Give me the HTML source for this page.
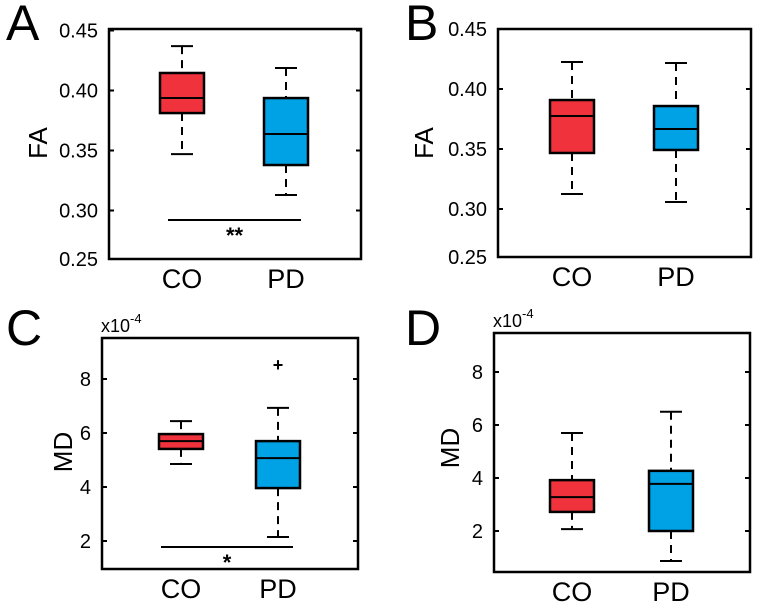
<!DOCTYPE html>
<html><head><meta charset="utf-8"><style>
body{margin:0;background:#fff}
svg{display:block;font-family:"Liberation Sans",Arial,sans-serif}
</style></head><body>
<svg id="s" width="761" height="609" viewBox="0 0 761 609"></svg>
<script>
const groups=["CO","PD"];
const colors=["#f0323c","#00a2e6"];
// FA panels: [whiskerTop,q3,median,q1,whiskerBottom]
const panelA_CO=[0.437,0.4146,0.3937,0.3812,0.347];
const panelA_PD=[0.4187,0.3937,0.3637,0.3379,0.3129];
const panelB_CO=[0.4225,0.3908,0.3775,0.3467,0.3125];
const panelB_PD=[0.4217,0.3858,0.3667,0.3492,0.3058];
// MD panels (x1e-4)
const panelC_CO=[6.44,5.96,5.70,5.41,4.85];
const panelC_PD=[6.93,5.70,5.07,3.96,2.15];
const panelC_outliers=[8.52];
const panelD_CO=[5.7,3.92,3.28,2.72,2.07];
const panelD_PD=[6.5,4.27,3.78,2.0,0.87];
const faTicks=[0.45,0.40,0.35,0.30,0.25];
const faTickLabels=["0.45","0.40","0.35","0.30","0.25"];
const mdTicks=[8,6,4,2];
const mdTickLabels=["8","6","4","2"];

const NS="http://www.w3.org/2000/svg";
const svg=document.getElementById('s');
function mk(tag,attrs,parent,text){const e=document.createElementNS(NS,tag);for(const k in attrs)e.setAttribute(k,attrs[k]);if(text!==undefined)e.textContent=text;(parent||svg).appendChild(e);return e;}

function panel(cfg){
  const g=mk('g',{});
  
  
  const y=v=>cfg.y0+(cfg.v0-v)*cfg.k;
  cfg.ticks.forEach((t,i)=>{
    const ty=y(t);
    if(ty>cfg.top+1&&ty<cfg.bottom-1){
      const l1=mk('line',{x1:cfg.left,x2:cfg.left+5,y1:ty,y2:ty,stroke:'#000','stroke-width':2},g);
      
      
      const l2=mk('line',{x1:cfg.right-5,x2:cfg.right,y1:ty,y2:ty,stroke:'#000','stroke-width':2},g);
      
      
    }
    const lt=mk('text',{x:cfg.left-11,y:Math.min(ty,cfg.bottom)+7,'text-anchor':'end','font-size':20},g,cfg.tickLabels[i]);
    
    
  });
  cfg.data.forEach((d,i)=>{
    const cx=cfg.cx[i],hw=22;
    const w1=mk('line',{x1:cx,x2:cx,y1:y(d[0]),y2:y(d[1]),stroke:'#000','stroke-width':2,'stroke-dasharray':'8,6'},g);
    
    
    const w2=mk('line',{x1:cx,x2:cx,y1:y(d[3]),y2:y(d[4]),stroke:'#000','stroke-width':2,'stroke-dasharray':'8,6'},g);
    
    
    [0,4].forEach(j=>{
      const c=mk('line',{x1:cx-11,x2:cx+11,y1:y(d[j]),y2:y(d[j]),stroke:'#000','stroke-width':2},g);
      
      
    });
    const r=mk('rect',{x:cx-hw,y:y(d[1]),width:hw*2,height:y(d[3])-y(d[1]),fill:colors[i],stroke:'#000','stroke-width':2.5},g);
    
    
    const m=mk('line',{x1:cx-hw,x2:cx+hw,y1:y(d[2]),y2:y(d[2]),stroke:'#000','stroke-width':2},g);
    
    
    const xl=mk('text',{x:cx,y:cfg.bottom+29,'text-anchor':'middle','font-size':27},g,groups[i]);
    
    
  });
  (cfg.outliers||[]).forEach(o=>{
    const t=mk('text',{x:cfg.cx[1],y:y(o)+6,'text-anchor':'middle','font-size':18,'font-weight':'bold'},g,'+');
    
    
  });
  if(cfg.sig){
    const s=mk('line',{x1:cfg.sig.x1,x2:cfg.sig.x2,y1:cfg.sig.y,y2:cfg.sig.y,stroke:'#000','stroke-width':2},g);
    
    
    const st=mk('text',{x:(cfg.sig.x1+cfg.sig.x2)/2,y:cfg.sig.y+23,'text-anchor':'middle','font-size':22,'font-weight':'bold'},g,cfg.sig.text);
    
    
  }
  const f=mk('rect',{x:cfg.left,y:cfg.top,width:cfg.right-cfg.left,height:cfg.bottom-cfg.top,fill:'none',stroke:'#000','stroke-width':2.5},g);
  
  
  const yl=mk('text',{x:cfg.ylx,y:cfg.yly,'text-anchor':'middle','font-size':26,transform:`rotate(-90 ${cfg.ylx} ${cfg.yly})`},g,cfg.ylabel);
  
  
  const pl=mk('text',{x:cfg.lx,y:cfg.ly,'font-size':50},g,cfg.letter);
  
  
  if(cfg.exp){
    const t=mk('text',{x:cfg.left-1,y:cfg.top-6,'font-size':18},g,'x10');
    
    
    mk('tspan',{dy:-9,'font-size':13},t,'-4');
  }
}
panel({letter:'A',left:109,right:361,top:29,bottom:259,v0:0.45,y0:30.5,k:1200,ticks:faTicks,tickLabels:faTickLabels,data:[panelA_CO,panelA_PD],cx:[182,286],sig:{x1:168,x2:301,y:220,text:'**'},ylabel:'FA',ylx:47,yly:143,lx:6,ly:40});
panel({letter:'B',left:498,right:751,top:29,bottom:257,v0:0.45,y0:29,k:1200,ticks:faTicks,tickLabels:faTickLabels,data:[panelB_CO,panelB_PD],cx:[572,676],ylabel:'FA',ylx:433,yly:143,lx:405,ly:40});
panel({letter:'C',left:102,right:358,top:338,bottom:569,v0:2,y0:541,k:27,ticks:mdTicks,tickLabels:mdTickLabels,data:[panelC_CO,panelC_PD],cx:[181,278],outliers:panelC_outliers,sig:{x1:161,x2:293,y:547,text:'*'},ylabel:'MD',ylx:72,yly:452,lx:6,ly:345,exp:true});
panel({letter:'D',left:494,right:750,top:333,bottom:572,v0:2,y0:531,k:26.5,ticks:mdTicks,tickLabels:mdTickLabels,data:[panelD_CO,panelD_PD],cx:[572,671],ylabel:'MD',ylx:459,yly:448,lx:405,ly:345,exp:true});
</script>
</body></html>
